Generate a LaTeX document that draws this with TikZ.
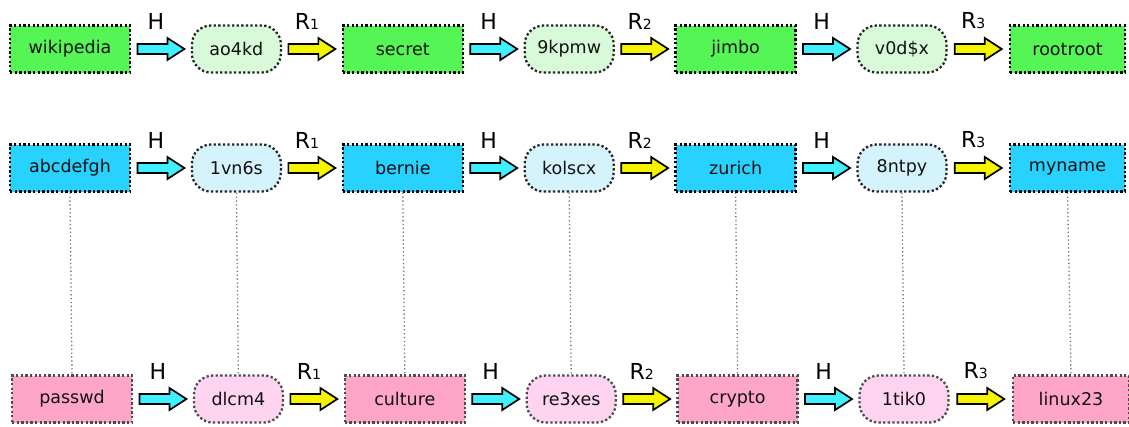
\documentclass[tikz,border=0pt]{standalone}
\usepackage{fontspec}
\setmainfont{DejaVu Sans}
\usetikzlibrary{calc}
\definecolor{gBox}{HTML}{55F555}
\definecolor{gRnd}{HTML}{D8FAD8}
\definecolor{bBox}{HTML}{28D2FF}
\definecolor{bRnd}{HTML}{D4F3FC}
\definecolor{pBox}{HTML}{FFA6C8}
\definecolor{pRnd}{HTML}{FFD4F0}
\definecolor{arrC}{HTML}{40F0FF}
\definecolor{arrY}{HTML}{F5F500}
\definecolor{txt}{HTML}{111111}
\newcommand\barr[5]{%
  \path (#2.east) -- (#3.west) coordinate[pos=.5] (#4m);
  \draw[blockarr, fill=#1] ($(#4m)+(-23.5,-5)$) -- ++(30,0) -- ++(0,-6) -- ++(17,11) -- ++(-17,11) -- ++(0,-6) -- ++(-30,0) -- cycle;
  \node[lbl] (#4l) at ($(#4m)+(-5,-28)$) {#5};
}
\newcommand\Rsub[1]{R{\fontsize{14}{14}\selectfont #1}}
\begin{document}
\begin{tikzpicture}[x=1pt,y=-1pt,
  base/.style={font=\fontsize{17.5}{20}\selectfont, text=txt, inner sep=0pt,
    minimum height=47pt, line width=2.3pt, dash pattern=on 2.3pt off 2.3pt},
  sqbox/.style={base, rectangle, minimum width=120pt},
  rndbox/.style={base, rectangle, rounded corners=19pt, minimum width=89pt},
  blockarr/.style={draw=black, line width=1.7pt, line join=miter, solid},
  lbl/.style={font=\fontsize{22}{24}\selectfont, text=black, inner sep=0pt},
  link/.style={draw=black!55, line width=1.3pt, dash pattern=on 1.3pt off 2.6pt}
]
\useasboundingbox (0,0) rectangle (1129,426);
% row 1
\node[sqbox, fill=gBox, draw=black] (a1) at (70,49) {wikipedia};
\node[rndbox, fill=gRnd, draw=black!85] (a2) at (236.4,49) {ao4kd};
\node[sqbox, fill=gBox, draw=black] (a3) at (402.8,49) {secret};
\node[rndbox, fill=gRnd, draw=black!85] (a4) at (569.2,49) {9kpmw};
\node[sqbox, fill=gBox, draw=black] (a5) at (735.6,49) {jimbo};
\node[rndbox, fill=gRnd, draw=black!85] (a6) at (902,49) {v0d\$x};
\node[sqbox, fill=gBox, draw=black, minimum width=115pt] (a7) at (1067.5,49) {rootroot};
% row 2
\node[sqbox, fill=bBox, draw=black] (b1) at (70,168) {abcdefgh};
\node[rndbox, fill=bRnd, draw=black!85] (b2) at (236.4,168) {1vn6s};
\node[sqbox, fill=bBox, draw=black] (b3) at (402.8,168) {bernie};
\node[rndbox, fill=bRnd, draw=black!85] (b4) at (569.2,168) {kolscx};
\node[sqbox, fill=bBox, draw=black] (b5) at (735.6,168) {zurich};
\node[rndbox, fill=bRnd, draw=black!85] (b6) at (902,168) {8ntpy};
\node[sqbox, fill=bBox, draw=black, minimum width=115pt] (b7) at (1067.5,168) {myname};
% row 3
\node[sqbox, fill=pBox, draw=black!70] (c1) at (72,399) {passwd};
\node[rndbox, fill=pRnd, draw=black!70] (c2) at (238.4,399) {dlcm4};
\node[sqbox, fill=pBox, draw=black!70] (c3) at (404.8,399) {culture};
\node[rndbox, fill=pRnd, draw=black!70] (c4) at (571.2,399) {re3xes};
\node[sqbox, fill=pBox, draw=black!70] (c5) at (737.6,399) {crypto};
\node[rndbox, fill=pRnd, draw=black!70] (c6) at (904,399) {1tik0};
\node[sqbox, fill=pBox, draw=black!70, minimum width=116pt] (c7) at (1071,399) {linux23};
% vertical dotted links
\foreach \i in {1,...,7} { \draw[link] (b\i.south) -- (c\i.north); }
% block arrows
\barr{arrC}{a1}{a2}{ha1}{H}
\barr{arrY}{a2}{a3}{ra1}{\Rsub{1}}
\barr{arrC}{a3}{a4}{ha2}{H}
\barr{arrY}{a4}{a5}{ra2}{\Rsub{2}}
\barr{arrC}{a5}{a6}{ha3}{H}
\barr{arrY}{a6}{a7}{ra3}{\Rsub{3}}
\barr{arrC}{b1}{b2}{hb1}{H}
\barr{arrY}{b2}{b3}{rb1}{\Rsub{1}}
\barr{arrC}{b3}{b4}{hb2}{H}
\barr{arrY}{b4}{b5}{rb2}{\Rsub{2}}
\barr{arrC}{b5}{b6}{hb3}{H}
\barr{arrY}{b6}{b7}{rb3}{\Rsub{3}}
\barr{arrC}{c1}{c2}{hc1}{H}
\barr{arrY}{c2}{c3}{rc1}{\Rsub{1}}
\barr{arrC}{c3}{c4}{hc2}{H}
\barr{arrY}{c4}{c5}{rc2}{\Rsub{2}}
\barr{arrC}{c5}{c6}{hc3}{H}
\barr{arrY}{c6}{c7}{rc3}{\Rsub{3}}
\end{tikzpicture}
\end{document}
